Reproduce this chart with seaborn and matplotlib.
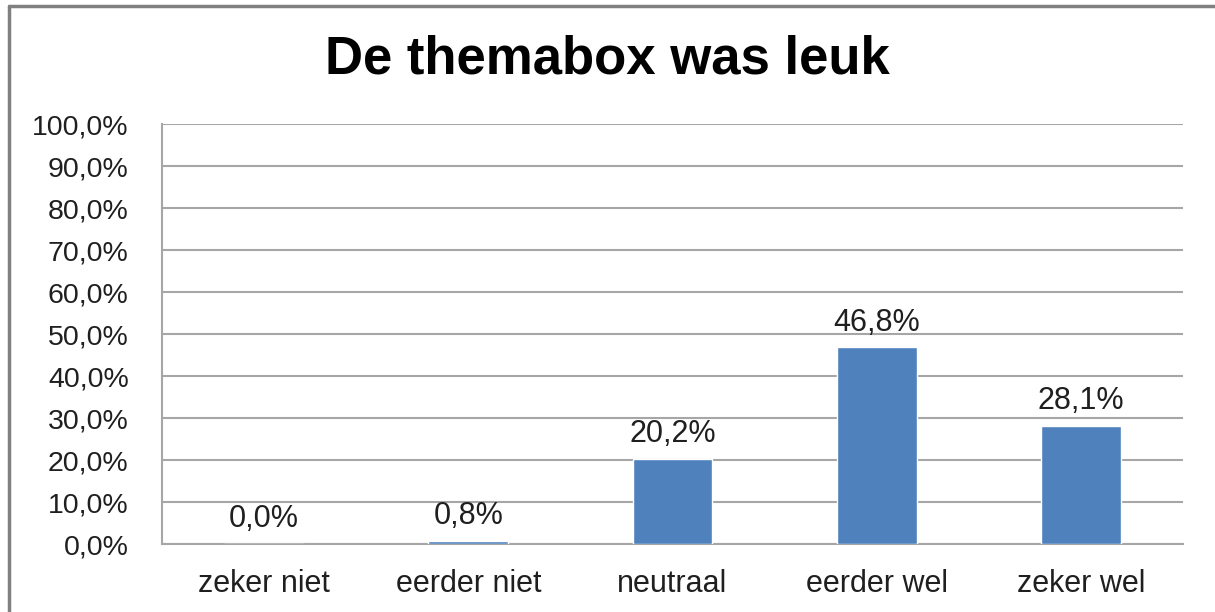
import matplotlib
matplotlib.use("Agg")
import matplotlib.pyplot as plt
from matplotlib.lines import Line2D
from matplotlib.ticker import FuncFormatter, FixedLocator
import seaborn as sns
import pandas as pd

categories = ['zeker niet', 'eerder niet', 'neutraal', 'eerder wel', 'zeker wel']
percentages = [0.0, 0.8, 20.2, 46.8, 28.1]
title = 'De themabox was leuk'

sns.set_style('white')
plt.rcParams['font.family'] = ['Liberation Sans', 'DejaVu Sans']

bar_color = '#4F81BD'
grid_color = '#A6A6A6'
text_color = '#1F1F1F'

df = pd.DataFrame({'categorie': categories, 'percentage': percentages})

fig = plt.figure(figsize=(12.15, 6.12), dpi=100)
ax = fig.add_axes([162 / 1215, 1 - 544 / 612, (1183 - 162) / 1215, (544 - 124) / 612])

sns.barplot(data=df, x='categorie', y='percentage', color=bar_color,
            width=0.39, saturation=1, ax=ax, zorder=3)

ax.set_ylim(0, 100)
ax.set_xlim(-0.5, len(categories) - 0.5)
ax.set_yticks(range(0, 101, 10))
ax.yaxis.set_major_formatter(FuncFormatter(lambda v, p: f'{v:.1f}%'.replace('.', ',')))
ax.grid(axis='y', color=grid_color, linewidth=1.5, zorder=0)
ax.set_axisbelow(True)

# tick marks between categories, labels centred under the bars
ax.set_xticks(range(len(categories)))
ax.set_xticklabels(categories)
ax.xaxis.set_minor_locator(FixedLocator([i - 0.5 for i in range(len(categories) + 1)]))
ax.tick_params(axis='x', which='major', length=0, pad=18, labelsize=22, labelcolor=text_color)
ax.tick_params(axis='x', which='minor', length=10, width=1.5, color=grid_color, direction='out')
ax.tick_params(axis='y', length=12, width=1.5, color=grid_color, direction='out',
               pad=12, labelsize=20.5, labelcolor=text_color)

for side in ['top', 'right']:
    ax.spines[side].set_visible(False)
for side in ['left', 'bottom']:
    ax.spines[side].set_color(grid_color)
    ax.spines[side].set_linewidth(1.5)

ax.set_xlabel('')
ax.set_ylabel('')

for i, v in enumerate(percentages):
    ax.annotate(f'{v:.1f}%'.replace('.', ','), (i, v), xytext=(0, 7),
                textcoords='offset points', ha='center', va='bottom',
                fontsize=22, color=text_color)

fig.text(0.5, 1 - 60 / 612, title, ha='center', va='center',
         fontsize=38, fontweight='bold', color='black')

# chart border (left and top edges visible)
fig.add_artist(Line2D([9 / 1215, 9 / 1215], [0, 1 - 6 / 612], color='#808080', linewidth=2.5))
fig.add_artist(Line2D([9 / 1215, 1], [1 - 6 / 612, 1 - 6 / 612], color='#808080', linewidth=2.5))

fig.savefig('out.png', dpi=100)
